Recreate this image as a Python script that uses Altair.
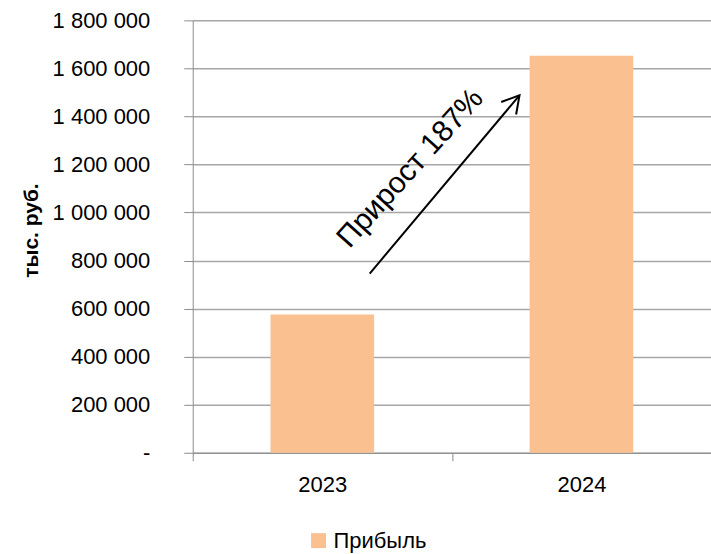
import altair as alt
import pandas as pd

# Profit by year, thousand roubles
years = ["2023", "2024"]
profit = [576000, 1653000]
series_name = "Прибыль"

y_ticks = [0, 200000, 400000, 600000, 800000, 1000000, 1200000, 1400000, 1600000, 1800000]

# Growth arrow and its caption, in (year, value) coordinates
arrow_x = [2023.183, 2023.761]
arrow_y = [746000, 1488000]
caption = "Прирост 187%"
caption_x = 2023.34
caption_y = 1184000

FONT = "Liberation Sans"
GRID = "#a6a6a6"
AXIS = "#8c8c8c"
BAR = "#FAC090"

bars_df = pd.DataFrame({"year": years, "value": profit, "series": [series_name] * len(years)})
arrow_df = pd.DataFrame({"x": arrow_x, "y": arrow_y, "order": [0, 1]})
head_df = pd.DataFrame({"x": [arrow_x[-1]], "y": [arrow_y[-1]]})
caption_df = pd.DataFrame({"x": [caption_x], "y": [caption_y], "t": [caption]})

# thousands separated by spaces, zero shown as an accounting-style dash
label_expr = (
    "datum.value == 0 ? '-\u2007' : "
    "replace(format(datum.value, ','), regexp(',', 'g'), '\u00a0')"
)

y_enc = alt.Y(
    "value:Q",
    scale=alt.Scale(domain=[0, 1800000], nice=False),
    axis=alt.Axis(
        values=y_ticks,
        labelExpr=label_expr,
        title="тыс. руб.",
        titleFont=FONT,
        titleFontSize=21,
        titleFontWeight="bold",
        titleColor="black",
        titleX=-161,
        titleY=210,
        titleAngle=270,
        titleAlign="center",
        titleBaseline="middle",
        labelFont=FONT,
        labelFontSize=22,
        labelColor="black",
        labelPadding=34,
        tickSize=9,
        tickColor=AXIS,
        domainColor=AXIS,
        grid=True,
        gridColor=GRID,
        gridWidth=1.5,
    ),
)

bars = (
    alt.Chart(bars_df)
    .mark_bar(width=alt.RelativeBandSize(0.4))
    .encode(
        x=alt.X(
            "year:N",
            scale=alt.Scale(paddingInner=0, paddingOuter=0),
            axis=alt.Axis(
                title=None,
                labelAngle=0,
                labelFont=FONT,
                labelFontSize=22,
                labelColor="black",
                labelPadding=14,
                tickBand="extent",
                tickSize=8,
                tickColor=AXIS,
                domainColor=AXIS,
                grid=False,
            ),
        ),
        y=y_enc,
        color=alt.Color(
            "series:N",
            scale=alt.Scale(range=[BAR]),
            legend=alt.Legend(
                title=None,
                orient="none",
                legendX=115,
                legendY=510,
                symbolType="square",
                symbolSize=225,
                symbolStrokeWidth=0,
                symbolOpacity=1,
                labelFont=FONT,
                labelFontSize=22,
                labelColor="black",
                labelOffset=4,
                padding=0,
            ),
        ),
    )
)

ann_x = alt.Scale(domain=[2022.5, 2024.5], nice=False, zero=False)
ann_y = alt.Scale(domain=[0, 1800000], nice=False)

shaft = (
    alt.Chart(arrow_df)
    .mark_line(color="black", strokeWidth=2)
    .encode(
        x=alt.X("x:Q", scale=ann_x, axis=None),
        y=alt.Y("y:Q", scale=ann_y, axis=None),
        order="order:Q",
    )
)

head = (
    alt.Chart(head_df)
    .mark_point(
        shape="M-0.5,0.866L0,0L0.5,0.866",
        size=1521,
        angle=40,
        filled=False,
        stroke="black",
        strokeWidth=2,
        opacity=1,
    )
    .encode(
        x=alt.X("x:Q", scale=ann_x, axis=None),
        y=alt.Y("y:Q", scale=ann_y, axis=None),
    )
)

label = (
    alt.Chart(caption_df)
    .mark_text(font=FONT, fontSize=30, angle=312, align="center", baseline="middle", color="black")
    .encode(
        x=alt.X("x:Q", scale=ann_x, axis=None),
        y=alt.Y("y:Q", scale=ann_y, axis=None),
        text="t:N",
    )
)

chart = (
    alt.layer(bars, shaft, head, label)
    .resolve_scale(x="independent", y="independent")
    .properties(
        width=519,
        height=433,
        padding={"left": 193, "top": 20, "right": 0, "bottom": 101},
        autosize=alt.AutoSizeParams(type="none"),
        background="white",
    )
    .configure_view(stroke=None)
)

chart.save("out.html", embed_options={"renderer": "svg", "actions": False})
